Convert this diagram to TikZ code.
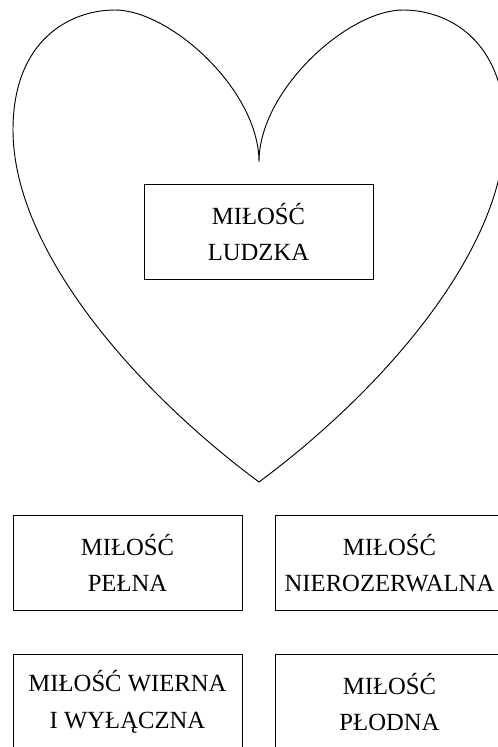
\documentclass[tikz,border=0pt]{standalone}
\usepackage{fontspec}
\setmainfont{Liberation Serif}

\begin{document}
\begin{tikzpicture}[x=0.75pt, y=-0.75pt,
	milosc/.style={draw, line width=0.6pt, minimum width=171.75pt, minimum height=71pt, inner sep=0pt, align=center, font=\fontsize{18.5}{27.5}\selectfont}]
	\useasboundingbox (0,0) rectangle (498,747);
	\clip (0,0) rectangle (498,747);
	\draw[line width=0.7pt] (259,482)
	  .. controls (135,390) and (13,250) .. (13,130)
	  .. controls (13,40) and (70,10) .. (115,10)
	  .. controls (170,10) and (259,90) .. (259,162)
	  .. controls (259,90) and (348,10) .. (403,10)
	  .. controls (448,10) and (505,40) .. (505,130)
	  .. controls (505,250) and (383,390) .. (259,482)
	  -- cycle;
	\node[milosc] (ludzka) at (258.5,232) {MIŁOŚĆ\\LUDZKA};
	\node[milosc] (pelna) at (127.5,563) {MIŁOŚĆ\\PEŁNA};
	\node[milosc] (nierozerwalna) at (389.5,563) {MIŁOŚĆ\\NIEROZERWALNA};
	\node[milosc] (wierna) at (127.5,702) {MIŁOŚĆ WIERNA\\I WYŁĄCZNA};
	\node[milosc] (plodna) at (389.5,702) {MIŁOŚĆ\\PŁODNA};
\end{tikzpicture}
\end{document}
